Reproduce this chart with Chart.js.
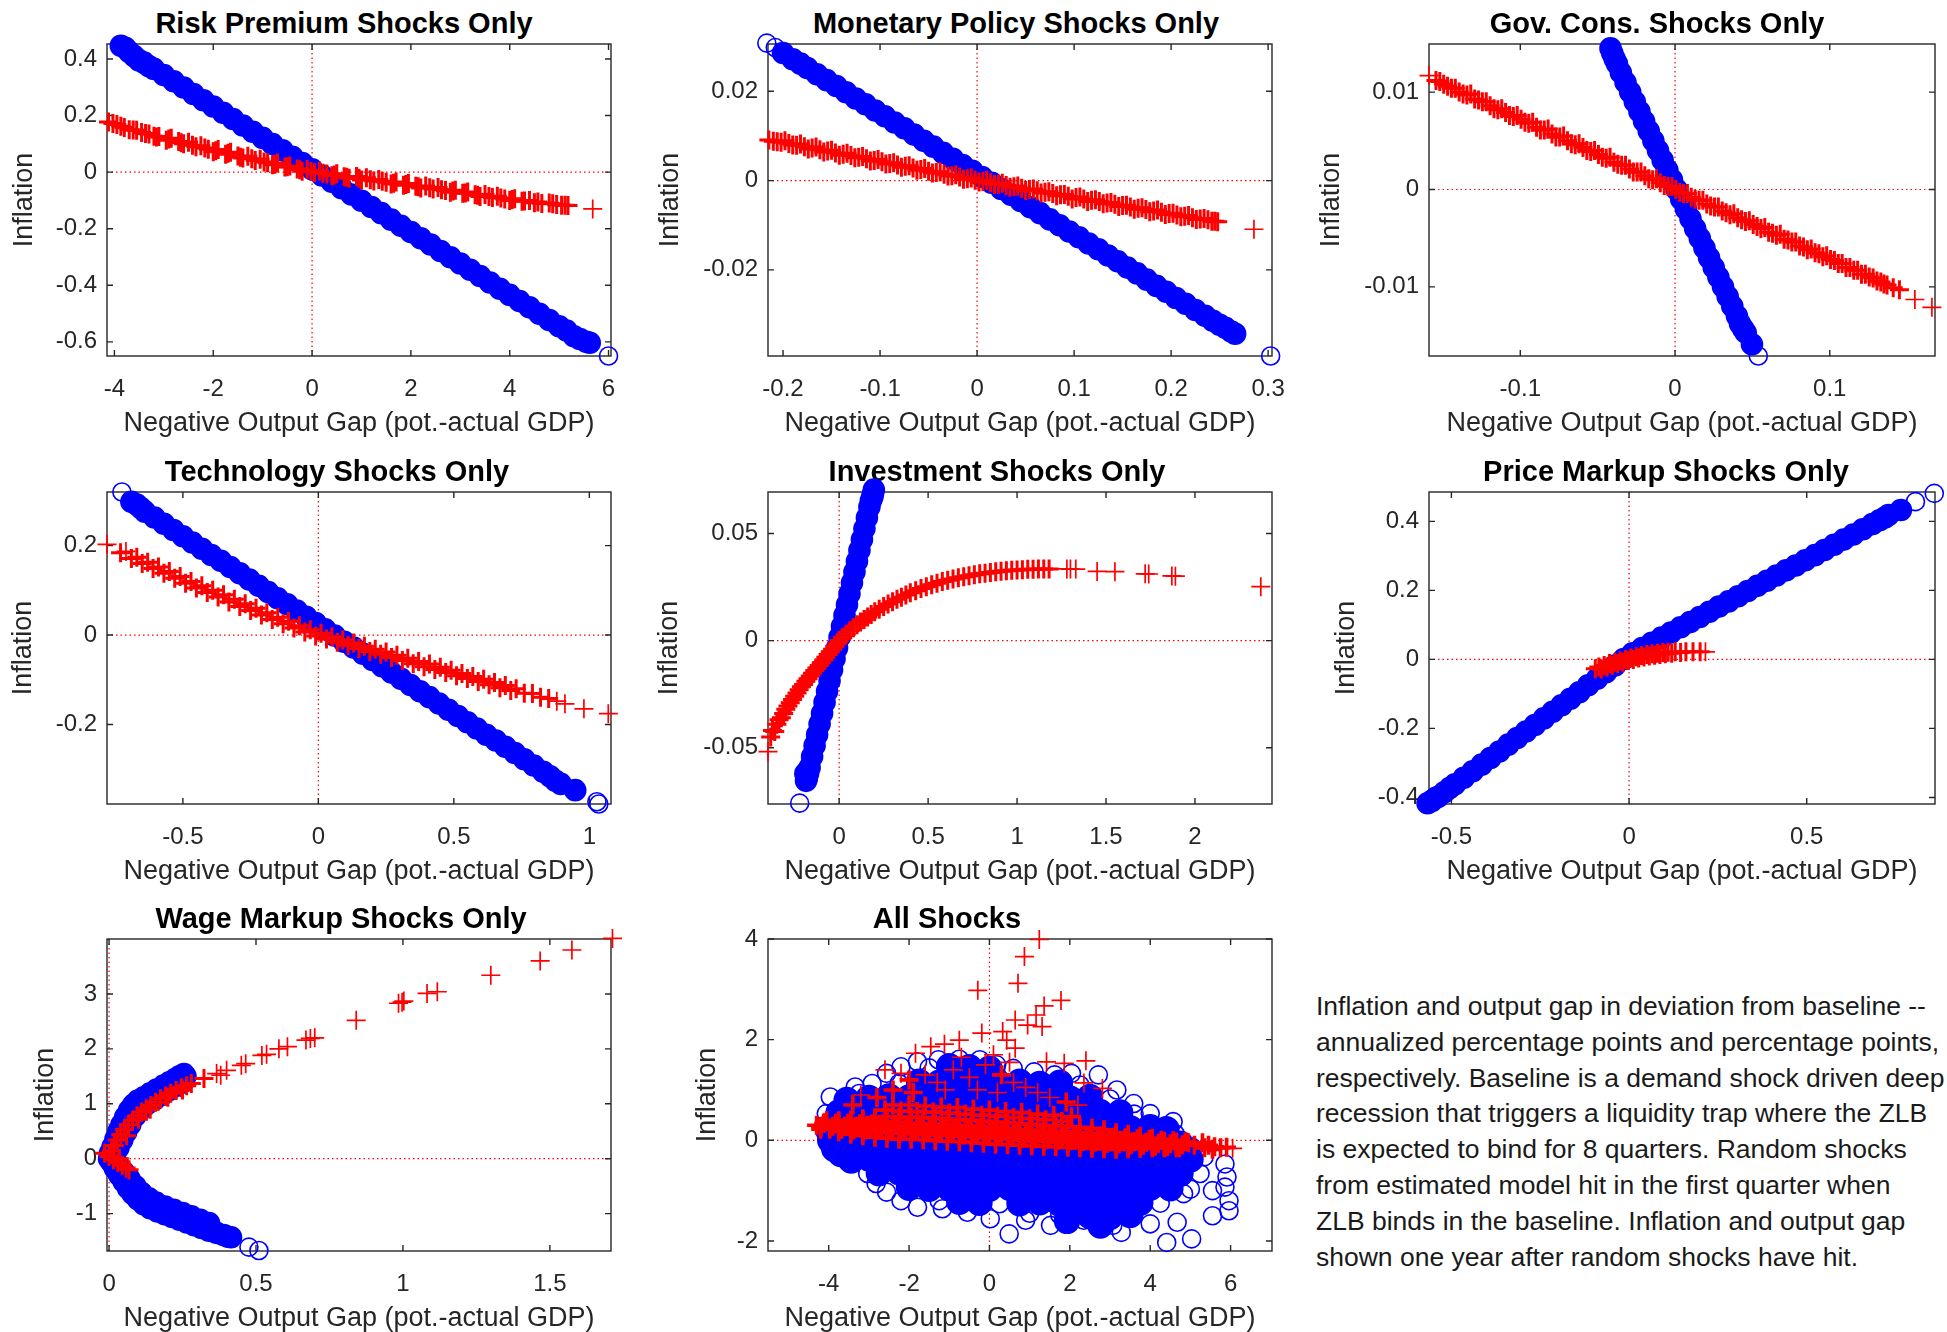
<!DOCTYPE html>
<html>
<head>
<meta charset="utf-8">
<script src="https://cdn.jsdelivr.net/npm/chart.js@4.4.1/dist/chart.umd.min.js"></script>
<style>
  html, body { margin: 0; padding: 0; background: #fff; }
  body { position: relative; width: 1947px; height: 1332px; overflow: hidden; font-family: "Liberation Sans", Arial, sans-serif; }
  canvas { position: absolute; }
  .ptitle { position: absolute; text-align: center; font-weight: bold; font-size: 29px; line-height: 34px; color: #000; white-space: nowrap; }
  #note { position: absolute; left: 1316px; top: 989px; font-size: 26.5px; line-height: 35.8px; color: #1a1a1a; white-space: pre; }
</style>
</head>
<body>
<div id="note">Inflation and output gap in deviation from baseline --
annualized percentage points and percentage points,
respectively. Baseline is a demand shock driven deep
recession that triggers a liquidity trap where the ZLB
is expected to bind for 8 quarters. Random shocks
from estimated model hit in the first quarter when
ZLB binds in the baseline. Inflation and output gap
shown one year after random shocks have hit.</div>
<script>
// ---- data: [negative output gap, inflation] ----
const riskXTicks = [-4, -2, 0, 2, 4, 6];
const riskYTicks = [-0.6, -0.4, -0.2, 0, 0.2, 0.4];
const riskCircles = [[-3.87,0.447],[-3.78,0.44],[-3.7,0.425],[-3.6,0.41],[-3.5,0.395],[-3.4,0.387],[-3.3,0.374],[-3.2,0.365],[-3.0,0.343],[-2.8,0.321],[-2.6,0.299],[-2.4,0.276],[-2.2,0.254],[-2.0,0.232],[-1.8,0.21],[-1.6,0.188],[-1.4,0.165],[-1.2,0.143],[-1.0,0.121],[-0.8,0.099],[-0.6,0.077],[-0.4,0.054],[-0.2,0.032],[0,0.01],[0.2,-0.012],[0.4,-0.034],[0.6,-0.057],[0.8,-0.079],[1.0,-0.101],[1.2,-0.123],[1.4,-0.145],[1.6,-0.168],[1.8,-0.19],[2.0,-0.212],[2.2,-0.234],[2.4,-0.256],[2.6,-0.279],[2.8,-0.301],[3.0,-0.323],[3.2,-0.345],[3.4,-0.367],[3.6,-0.39],[3.8,-0.412],[4.0,-0.434],[4.2,-0.456],[4.4,-0.478],[4.6,-0.501],[4.8,-0.523],[5.0,-0.545],[5.15,-0.56],[5.3,-0.58],[5.42,-0.59],[5.55,-0.6],[5.62,-0.603],[6.0,-0.65]];
const riskPluses = [[-4.12,0.177],[-3.95,0.168],[-3.8,0.158],[-3.7,0.15],[-3.55,0.148],[-3.45,0.14],[-3.3,0.135],[-3.2,0.127],[-3.1,0.126],[-2.95,0.113],[-2.85,0.12],[-2.7,0.108],[-2.6,0.1],[-2.5,0.106],[-2.35,0.09],[-2.25,0.093],[-2.1,0.081],[-2.0,0.072],[-1.9,0.08],[-1.75,0.063],[-1.65,0.07],[-1.5,0.057],[-1.4,0.05],[-1.3,0.056],[-1.15,0.041],[-1.05,0.046],[-0.9,0.033],[-0.8,0.026],[-0.7,0.032],[-0.55,0.018],[-0.45,0.022],[-0.3,0.011],[-0.2,0.003],[-0.1,0.01],[0.05,-0.002],[0.15,0.004],[0.3,-0.007],[0.4,-0.013],[0.5,-0.006],[0.65,-0.016],[0.75,-0.022],[0.9,-0.015],[1.0,-0.028],[1.1,-0.02],[1.25,-0.031],[1.35,-0.026],[1.5,-0.036],[1.6,-0.042],[1.7,-0.035],[1.85,-0.046],[1.95,-0.04],[2.1,-0.05],[2.2,-0.056],[2.3,-0.049],[2.45,-0.06],[2.55,-0.054],[2.7,-0.065],[2.8,-0.071],[2.9,-0.064],[3.05,-0.075],[3.15,-0.07],[3.3,-0.08],[3.4,-0.086],[3.5,-0.079],[3.65,-0.09],[3.75,-0.085],[3.9,-0.095],[4.0,-0.1],[4.1,-0.094],[4.25,-0.103],[4.4,-0.1],[4.5,-0.108],[4.65,-0.111],[4.8,-0.109],[4.95,-0.114],[5.05,-0.117],[5.18,-0.118],[5.68,-0.13],
  [-4.03,0.172],[-3.87,0.162],[-3.62,0.149],[-3.37,0.137],[-3.15,0.124],[-2.9,0.117],[-2.65,0.104],[-2.42,0.095],[-2.17,0.085],[-1.95,0.076],[-1.7,0.067],[-1.45,0.053],[-1.22,0.047],[-0.97,0.036],[-0.75,0.028],[-0.5,0.019],[-0.25,0.008],[-0.02,0.002],[0.22,-0.004],[0.45,-0.01],[0.7,-0.018],[0.95,-0.022],[1.18,-0.027],[1.42,-0.032],[1.65,-0.039],[1.9,-0.044],[2.15,-0.052],[2.38,-0.055],[2.62,-0.062],[2.85,-0.067],[3.1,-0.074],[3.35,-0.082],[3.58,-0.086],[3.82,-0.091],[4.05,-0.097],[4.3,-0.102],[4.57,-0.106],[4.87,-0.112],[5.12,-0.117]];

const monXTicks = [-0.2, -0.1, 0, 0.1, 0.2, 0.3];
const monYTicks = [-0.02, 0, 0.02];
const monCircles = [[-0.2167,0.0308],[-0.208,0.0298],[-0.2,0.0286],[-0.19,0.0272],[-0.182,0.0262],[-0.175,0.0252],[-0.165,0.0238],[-0.155,0.0225],[-0.145,0.0212],[-0.135,0.0198],[-0.125,0.0184],[-0.115,0.0171],[-0.105,0.0157],[-0.095,0.0144],[-0.085,0.013],[-0.075,0.0117],[-0.065,0.0103],[-0.055,0.0089],[-0.045,0.0076],[-0.035,0.0062],[-0.025,0.0049],[-0.015,0.0035],[-0.005,0.0022],[0.005,0.0008],[0.015,-0.0005],[0.025,-0.0019],[0.035,-0.0032],[0.045,-0.0046],[0.055,-0.006],[0.065,-0.0073],[0.075,-0.0087],[0.085,-0.01],[0.095,-0.0114],[0.105,-0.0127],[0.115,-0.0141],[0.125,-0.0154],[0.135,-0.0168],[0.145,-0.0181],[0.155,-0.0195],[0.165,-0.0208],[0.175,-0.0222],[0.185,-0.0236],[0.195,-0.0249],[0.205,-0.0263],[0.215,-0.0276],[0.225,-0.029],[0.235,-0.0303],[0.243,-0.0314],[0.25,-0.0323],[0.256,-0.033],[0.262,-0.0338],[0.266,-0.0343],[0.3026,-0.0393]];
const monPluses = [[-0.2146,0.0091],[-0.206,0.0087],[-0.198,0.0089],[-0.19,0.008],[-0.182,0.0082],[-0.174,0.0071],[-0.166,0.0075],[-0.158,0.0064],[-0.15,0.0068],[-0.142,0.0057],[-0.134,0.0061],[-0.126,0.0051],[-0.118,0.0054],[-0.11,0.0044],[-0.102,0.0047],[-0.094,0.0037],[-0.086,0.004],[-0.078,0.003],[-0.07,0.0033],[-0.062,0.0023],[-0.054,0.0027],[-0.046,0.0017],[-0.038,0.002],[-0.03,0.001],[-0.022,0.0013],[-0.014,0.0003],[-0.006,0.0006],[0.002,-0.0003],[0.01,0.0001],[0.018,-0.0009],[0.026,-0.0006],[0.034,-0.0015],[0.042,-0.0012],[0.05,-0.0022],[0.058,-0.0019],[0.066,-0.0028],[0.074,-0.0025],[0.082,-0.0034],[0.09,-0.0031],[0.098,-0.0041],[0.106,-0.0037],[0.114,-0.0047],[0.122,-0.0043],[0.13,-0.0052],[0.138,-0.0049],[0.146,-0.0058],[0.154,-0.0055],[0.162,-0.0064],[0.17,-0.0061],[0.178,-0.007],[0.186,-0.0066],[0.194,-0.0076],[0.202,-0.0073],[0.21,-0.0081],[0.218,-0.0078],[0.226,-0.0087],[0.234,-0.0085],[0.242,-0.0091],[0.248,-0.0092],[0.2854,-0.0109],
  [-0.21,0.0088],[-0.202,0.0086],[-0.194,0.0083],[-0.186,0.0079],[-0.178,0.0076],[-0.17,0.0073],[-0.162,0.0069],[-0.154,0.0066],[-0.146,0.0062],[-0.138,0.0059],[-0.13,0.0056],[-0.122,0.0052],[-0.114,0.0049],[-0.106,0.0045],[-0.098,0.0042],[-0.09,0.0038],[-0.082,0.0035],[-0.074,0.0032],[-0.066,0.0028],[-0.058,0.0025],[-0.05,0.0021],[-0.042,0.0018],[-0.034,0.0014],[-0.026,0.0011],[-0.018,0.0008],[-0.01,0.0004],[-0.002,0.0001],[0.006,-0.0002],[0.014,-0.0005],[0.022,-0.0008],[0.03,-0.0011],[0.038,-0.0014],[0.046,-0.0017],[0.054,-0.002],[0.062,-0.0023],[0.07,-0.0026],[0.078,-0.0029],[0.086,-0.0032],[0.094,-0.0035],[0.102,-0.0038],[0.11,-0.0041],[0.118,-0.0044],[0.126,-0.0047],[0.134,-0.005],[0.142,-0.0053],[0.15,-0.0056],[0.158,-0.0059],[0.166,-0.0062],[0.174,-0.0065],[0.182,-0.0068],[0.19,-0.0071],[0.198,-0.0074],[0.206,-0.0077],[0.214,-0.008],[0.222,-0.0083],[0.23,-0.0086],[0.238,-0.0088],[0.245,-0.0091]];

const govXTicks = [-0.1, 0, 0.1];
const govYTicks = [-0.01, 0, 0.01];
const govCircles = [[-0.0417,0.0145],[-0.0405,0.014],[-0.039,0.0134],[-0.0375,0.0129],[-0.035,0.012],[-0.032,0.011],[-0.029,0.01],[-0.026,0.009],[-0.023,0.008],[-0.02,0.007],[-0.017,0.006],[-0.014,0.005],[-0.011,0.004],[-0.008,0.003],[-0.005,0.002],[-0.002,0.001],[0.001,0.0],[0.004,-0.001],[0.007,-0.002],[0.01,-0.003],[0.013,-0.004],[0.016,-0.005],[0.019,-0.006],[0.022,-0.007],[0.025,-0.008],[0.028,-0.009],[0.031,-0.01],[0.034,-0.011],[0.037,-0.012],[0.04,-0.013],[0.042,-0.0138],[0.044,-0.0143],[0.0457,-0.0147],[0.0497,-0.0159],[0.0538,-0.0171]];
const govPluses = [[-0.159,0.0117],[-0.152,0.0111],[-0.147,0.0106],[-0.142,0.0104],[-0.137,0.0098],[-0.132,0.0098],[-0.127,0.0092],[-0.122,0.009],[-0.117,0.0083],[-0.112,0.0083],[-0.107,0.0076],[-0.102,0.0076],[-0.097,0.0069],[-0.092,0.0069],[-0.087,0.0061],[-0.082,0.0062],[-0.077,0.0054],[-0.072,0.0055],[-0.067,0.0047],[-0.062,0.0047],[-0.057,0.004],[-0.052,0.004],[-0.047,0.0033],[-0.042,0.0033],[-0.037,0.0026],[-0.032,0.0025],[-0.027,0.0018],[-0.022,0.0018],[-0.017,0.0011],[-0.012,0.0011],[-0.007,0.0004],[-0.002,0.0003],[0.003,-0.0003],[0.008,-0.0004],[0.013,-0.001],[0.018,-0.0011],[0.023,-0.0017],[0.028,-0.0018],[0.033,-0.0024],[0.038,-0.0025],[0.043,-0.0031],[0.048,-0.0032],[0.053,-0.0038],[0.058,-0.0039],[0.063,-0.0045],[0.068,-0.0046],[0.073,-0.0052],[0.078,-0.0054],[0.083,-0.0059],[0.088,-0.0061],[0.093,-0.0066],[0.098,-0.0068],[0.103,-0.0073],[0.108,-0.0076],[0.113,-0.008],[0.118,-0.0083],[0.123,-0.0087],[0.128,-0.0091],[0.133,-0.0095],[0.137,-0.0098],[0.141,-0.0101],[0.145,-0.0103],[0.155,-0.0113],[0.166,-0.0121],
  [-0.1545,0.0112],[-0.1495,0.0108],[-0.1445,0.0104],[-0.1395,0.01],[-0.1345,0.0097],[-0.1295,0.0093],[-0.1245,0.009],[-0.1195,0.0086],[-0.1145,0.0082],[-0.1095,0.0079],[-0.1045,0.0075],[-0.0995,0.0072],[-0.0945,0.0068],[-0.0895,0.0064],[-0.0845,0.0061],[-0.0795,0.0057],[-0.0745,0.0054],[-0.0695,0.005],[-0.0645,0.0046],[-0.0595,0.0043],[-0.0545,0.0039],[-0.0495,0.0036],[-0.0445,0.0032],[-0.0395,0.0028],[-0.0345,0.0025],[-0.0295,0.0021],[-0.0245,0.0018],[-0.0195,0.0014],[-0.0145,0.001],[-0.0095,0.0007],[-0.0045,0.0003],[0.0005,0.0],[0.0055,-0.0004],[0.0105,-0.0008],[0.0155,-0.0011],[0.0205,-0.0015],[0.0255,-0.0018],[0.0305,-0.0022],[0.0355,-0.0026],[0.0405,-0.0029],[0.0455,-0.0033],[0.0505,-0.0036],[0.0555,-0.004],[0.0605,-0.0044],[0.0655,-0.0047],[0.0705,-0.0051],[0.0755,-0.0054],[0.0805,-0.0058],[0.0855,-0.0062],[0.0905,-0.0065],[0.0955,-0.0069],[0.1005,-0.0072],[0.1055,-0.0076],[0.1105,-0.008],[0.1155,-0.0083],[0.1205,-0.0087],[0.1255,-0.009],[0.1305,-0.0094],[0.135,-0.0097]];

const techXTicks = [-0.5, 0, 0.5, 1];
const techYTicks = [-0.2, 0, 0.2];
const techCircles = [[-0.725,0.32],[-0.69,0.298],[-0.67,0.292],[-0.655,0.284],[-0.64,0.276],[-0.605,0.263],[-0.57,0.249],[-0.535,0.235],[-0.5,0.221],[-0.465,0.207],[-0.43,0.193],[-0.395,0.179],[-0.36,0.166],[-0.325,0.152],[-0.29,0.138],[-0.255,0.124],[-0.22,0.11],[-0.185,0.096],[-0.15,0.082],[-0.115,0.069],[-0.08,0.055],[-0.045,0.041],[-0.01,0.027],[0.025,0.013],[0.06,-0.001],[0.095,-0.015],[0.13,-0.028],[0.165,-0.042],[0.2,-0.056],[0.235,-0.07],[0.27,-0.084],[0.305,-0.098],[0.34,-0.112],[0.375,-0.126],[0.41,-0.139],[0.445,-0.153],[0.48,-0.167],[0.515,-0.181],[0.55,-0.195],[0.585,-0.209],[0.62,-0.223],[0.655,-0.236],[0.69,-0.25],[0.725,-0.264],[0.76,-0.278],[0.795,-0.292],[0.83,-0.306],[0.855,-0.316],[0.875,-0.326],[0.895,-0.333],[0.948,-0.347],[1.028,-0.373],[1.035,-0.378]];
const techPluses = [[-0.78,0.203],[-0.73,0.184],[-0.71,0.187],[-0.69,0.171],[-0.67,0.174],[-0.65,0.16],[-0.63,0.163],[-0.61,0.149],[-0.59,0.152],[-0.57,0.138],[-0.55,0.142],[-0.53,0.127],[-0.51,0.131],[-0.49,0.116],[-0.47,0.12],[-0.45,0.105],[-0.43,0.11],[-0.41,0.095],[-0.39,0.1],[-0.37,0.085],[-0.35,0.09],[-0.33,0.074],[-0.31,0.08],[-0.29,0.064],[-0.27,0.07],[-0.25,0.055],[-0.23,0.06],[-0.21,0.045],[-0.19,0.05],[-0.17,0.035],[-0.15,0.04],[-0.13,0.025],[-0.11,0.031],[-0.09,0.016],[-0.07,0.021],[-0.05,0.007],[-0.03,0.012],[-0.01,-0.002],[0.01,0.004],[0.03,-0.009],[0.05,-0.004],[0.07,-0.016],[0.09,-0.011],[0.11,-0.023],[0.13,-0.018],[0.15,-0.03],[0.17,-0.025],[0.19,-0.037],[0.21,-0.032],[0.23,-0.043],[0.25,-0.038],[0.27,-0.05],[0.29,-0.045],[0.31,-0.057],[0.33,-0.052],[0.35,-0.064],[0.37,-0.059],[0.39,-0.071],[0.41,-0.065],[0.43,-0.077],[0.45,-0.072],[0.47,-0.084],[0.49,-0.079],[0.51,-0.091],[0.53,-0.086],[0.55,-0.097],[0.57,-0.093],[0.59,-0.104],[0.61,-0.099],[0.63,-0.111],[0.65,-0.106],[0.67,-0.118],[0.69,-0.113],[0.71,-0.124],[0.73,-0.12],[0.76,-0.13],[0.79,-0.131],[0.82,-0.139],[0.85,-0.142],[0.88,-0.148],[0.91,-0.154],[0.98,-0.165],[1.07,-0.176]];

const invXTicks = [0, 0.5, 1, 1.5, 2];
const invYTicks = [-0.05, 0, 0.05];
const invCircles = [[0.195,0.0705],[0.19,0.0685],[0.186,0.067],[0.178,0.0653],[0.17,0.0624],[0.156,0.0574],[0.142,0.0523],[0.128,0.0472],[0.114,0.0422],[0.1,0.0371],[0.086,0.032],[0.072,0.027],[0.058,0.0219],[0.044,0.0168],[0.03,0.0118],[0.016,0.0067],[0.002,0.0016],[-0.012,-0.0034],[-0.026,-0.0085],[-0.04,-0.0136],[-0.054,-0.0187],[-0.068,-0.0237],[-0.082,-0.0288],[-0.096,-0.0339],[-0.11,-0.0389],[-0.124,-0.044],[-0.138,-0.049],[-0.152,-0.0541],[-0.166,-0.0592],[-0.175,-0.062],[-0.182,-0.0643],[-0.19,-0.062],[-0.186,-0.0655],[-0.222,-0.0759]];
const invPluses = [[-0.40,-0.0518],[-0.385,-0.045],[-0.375,-0.042],[-0.362,-0.0425],[-0.35,-0.039],[-0.338,-0.037],[-0.325,-0.036],[-0.312,-0.034],[-0.3,-0.032],[-0.288,-0.0305],[-0.275,-0.029],[-0.262,-0.0275],[-0.25,-0.026],[-0.237,-0.0245],[-0.225,-0.023],[-0.212,-0.0215],[-0.2,-0.0205],[-0.187,-0.019],[-0.175,-0.0178],[-0.162,-0.0165],[-0.15,-0.0152],[-0.137,-0.014],[-0.125,-0.0128],[-0.112,-0.0116],[-0.1,-0.0103],[-0.087,-0.0091],[-0.075,-0.0078],[-0.062,-0.0065],[-0.05,-0.0052],[-0.037,-0.004],[-0.025,-0.0027],[-0.012,-0.0013],[0.0,0.0],[0.02,0.0015],[0.04,0.003],[0.06,0.0046],[0.08,0.006],[0.1,0.0074],[0.12,0.0087],[0.14,0.0099],[0.16,0.011],[0.18,0.0122],[0.2,0.0135],[0.225,0.0147],[0.25,0.0159],[0.275,0.0171],[0.3,0.0182],[0.325,0.0193],[0.35,0.0203],[0.375,0.0213],[0.4,0.0223],[0.43,0.0233],[0.46,0.0243],[0.49,0.0252],[0.52,0.0261],[0.55,0.0268],[0.58,0.0276],[0.61,0.0282],[0.64,0.0288],[0.67,0.0294],[0.70,0.0298],[0.73,0.0303],[0.76,0.0308],[0.79,0.0312],[0.82,0.0315],[0.85,0.0318],[0.88,0.0321],[0.91,0.0324],[0.94,0.0326],[0.97,0.0328],[1.0,0.033],[1.03,0.0331],[1.06,0.0333],[1.09,0.0333],[1.12,0.0334],[1.15,0.0334],[1.18,0.0334],[1.28,0.0335],[1.3,0.0334],[1.33,0.0334],[1.45,0.0323],[1.55,0.0322],[1.72,0.0312],[1.74,0.0311],[1.87,0.0302],[1.89,0.0301],[2.37,0.0252]];

const priceXTicks = [-0.5, 0, 0.5];
const priceYTicks = [-0.4, -0.2, 0, 0.2, 0.4];
const priceCircles = [[-0.567,-0.417],[-0.555,-0.41],[-0.545,-0.402],[-0.537,-0.398],[-0.52,-0.385],[-0.505,-0.373],[-0.49,-0.362],[-0.465,-0.343],[-0.44,-0.324],[-0.415,-0.305],[-0.39,-0.286],[-0.365,-0.267],[-0.34,-0.247],[-0.315,-0.228],[-0.29,-0.209],[-0.265,-0.19],[-0.24,-0.171],[-0.215,-0.152],[-0.19,-0.133],[-0.165,-0.114],[-0.14,-0.095],[-0.115,-0.075],[-0.09,-0.056],[-0.065,-0.037],[-0.04,-0.018],[-0.015,0.001],[0.01,0.018],[0.037,0.033],[0.064,0.048],[0.091,0.063],[0.118,0.078],[0.145,0.093],[0.172,0.108],[0.199,0.123],[0.226,0.138],[0.253,0.153],[0.28,0.168],[0.307,0.183],[0.334,0.198],[0.361,0.213],[0.388,0.228],[0.415,0.243],[0.442,0.258],[0.469,0.272],[0.496,0.287],[0.523,0.302],[0.55,0.317],[0.577,0.332],[0.604,0.347],[0.631,0.362],[0.658,0.377],[0.685,0.392],[0.705,0.403],[0.72,0.411],[0.73,0.418],[0.765,0.433],[0.806,0.457],[0.859,0.481]];
const pricePluses = [[-0.095,-0.027],[-0.085,-0.022],[-0.078,-0.028],[-0.07,-0.018],[-0.062,-0.022],[-0.055,-0.012],[-0.047,-0.017],[-0.04,-0.008],[-0.032,-0.012],[-0.025,-0.004],[-0.017,-0.008],[-0.01,0.0],[-0.002,-0.003],[0.005,0.004],[0.012,0.0],[0.02,0.008],[0.027,0.004],[0.035,0.011],[0.042,0.007],[0.05,0.014],[0.057,0.01],[0.065,0.016],[0.072,0.012],[0.08,0.018],[0.087,0.014],[0.095,0.02],[0.102,0.016],[0.11,0.021],[0.12,0.018],[0.13,0.022],[0.145,0.02],[0.16,0.022],[0.18,0.022],[0.2,0.022],[0.215,0.022]];

const wageXTicks = [0, 0.5, 1, 1.5];
const wageYTicks = [-1, 0, 1, 2, 3];
const wageCircles = [[0.0,0.0],[0.003,0.1],[0.012,0.22],[0.022,0.36],[0.032,0.5],[0.042,0.62],[0.055,0.76],[0.068,0.88],[0.082,0.98],[0.098,1.06],[0.118,1.12],[0.14,1.19],[0.162,1.26],[0.185,1.33],[0.205,1.39],[0.225,1.45],[0.24,1.5],[0.255,1.54],[0.26,1.5],[0.02,0.08],[0.032,0.2],[0.045,0.34],[0.058,0.48],[0.072,0.62],[0.09,0.78],[0.11,0.9],[0.13,1.0],[0.155,1.08],[0.18,1.16],[0.205,1.25],[0.23,1.33],[0.252,1.4],[0.008,-0.06],[0.02,-0.18],[0.035,-0.3],[0.05,-0.42],[0.065,-0.54],[0.08,-0.64],[0.098,-0.74],[0.118,-0.83],[0.14,-0.9],[0.165,-0.96],[0.19,-1.01],[0.215,-1.06],[0.24,-1.11],[0.265,-1.16],[0.29,-1.21],[0.315,-1.26],[0.34,-1.31],[0.365,-1.35],[0.39,-1.39],[0.405,-1.42],[0.415,-1.43],[0.03,-0.1],[0.05,-0.24],[0.07,-0.37],[0.09,-0.5],[0.11,-0.62],[0.135,-0.72],[0.16,-0.8],[0.19,-0.87],[0.22,-0.93],[0.25,-0.99],[0.28,-1.05],[0.31,-1.11],[0.34,-1.17],[0.476,-1.61],[0.51,-1.67]];
const wagePluses = [[-0.015,0.1],[0.0,0.04],[0.008,0.14],[0.018,0.24],[0.028,0.34],[0.04,0.44],[0.052,0.53],[0.066,0.62],[0.08,0.7],[0.095,0.78],[0.11,0.85],[0.126,0.91],[0.142,0.97],[0.158,1.03],[0.175,1.09],[0.192,1.14],[0.21,1.19],[0.228,1.24],[0.246,1.29],[0.264,1.33],[0.28,1.37],[0.015,-0.02],[0.03,-0.07],[0.045,-0.12],[0.058,-0.17],[0.068,-0.2],[0.035,0.0],[0.06,0.42],[0.1,0.72],[0.14,0.9],[0.2,1.12],[0.25,1.25],[0.323,1.46],[0.366,1.55],[0.38,1.52],[0.4,1.61],[0.45,1.7],[0.465,1.73],[0.52,1.88],[0.536,1.9],[0.578,2.0],[0.607,2.04],[0.67,2.16],[0.685,2.19],[0.7,2.2],[0.841,2.52],[0.985,2.83],[0.997,2.85],[1.003,2.87],[1.082,3.01],[1.117,3.04],[1.299,3.34],[1.467,3.6],[1.575,3.8],[1.713,4.01]];

const allXTicks = [-4, -2, 0, 2, 4, 6];
const allYTicks = [-2, 0, 2, 4];
const allCircles = [
  [-1.5,1.44],[-1.0,1.47],[-0.5,1.45],[0.0,1.42],
  [-2.25,1.13],[-1.75,1.16],[-1.25,1.14],[-0.75,1.17],[-0.25,1.15],[0.25,1.13],[0.75,1.16],[1.25,1.12],[1.75,1.14],[2.25,1.1],
  [-3.0,0.84],[-2.5,0.87],[-2.0,0.85],[-1.5,0.83],[-1.0,0.86],[-0.5,0.85],[0.0,0.87],[0.5,0.84],[1.0,0.86],[1.5,0.85],[2.0,0.83],[2.5,0.86],[3.0,0.82],
  [-3.75,0.55],[-3.25,0.57],[-2.75,0.54],[-2.25,0.56],[-1.75,0.55],[-1.25,0.53],[-0.75,0.56],[-0.25,0.55],[0.25,0.57],[0.75,0.54],[1.25,0.56],[1.75,0.55],[2.25,0.53],[2.75,0.56],[3.25,0.55],[3.6,0.52],
  [-4.0,0.25],[-3.5,0.27],[-3.0,0.24],[-2.5,0.26],[-2.0,0.25],[-1.5,0.23],[-1.0,0.26],[-0.5,0.25],[0.0,0.27],[0.5,0.24],[1.0,0.26],[1.5,0.25],[2.0,0.23],[2.5,0.26],[3.0,0.25],[3.5,0.24],[4.0,0.26],[4.4,0.22],
  [-3.75,-0.05],[-3.25,-0.03],[-2.75,-0.06],[-2.25,-0.04],[-1.75,-0.05],[-1.25,-0.07],[-0.75,-0.04],[-0.25,-0.05],[0.25,-0.03],[0.75,-0.06],[1.25,-0.04],[1.75,-0.05],[2.25,-0.07],[2.75,-0.04],[3.25,-0.05],[3.75,-0.06],[4.25,-0.04],[4.75,-0.07],
  [-3.5,-0.33],[-3.0,-0.36],[-2.5,-0.34],[-2.0,-0.35],[-1.5,-0.37],[-1.0,-0.34],[-0.5,-0.35],[0.0,-0.33],[0.5,-0.36],[1.0,-0.34],[1.5,-0.35],[2.0,-0.37],[2.5,-0.34],[3.0,-0.35],[3.5,-0.33],[4.0,-0.36],[4.5,-0.34],[5.0,-0.38],
  [-2.75,-0.65],[-2.25,-0.63],[-1.75,-0.66],[-1.25,-0.64],[-0.75,-0.65],[-0.25,-0.67],[0.25,-0.64],[0.75,-0.65],[1.25,-0.63],[1.75,-0.66],[2.25,-0.64],[2.75,-0.65],[3.25,-0.67],[3.75,-0.64],[4.25,-0.65],[4.75,-0.66],
  [-2.0,-0.94],[-1.5,-0.96],[-1.0,-0.95],[-0.5,-0.93],[0.0,-0.96],[0.5,-0.94],[1.0,-0.95],[1.5,-0.97],[2.0,-0.94],[2.5,-0.95],[3.0,-0.93],[3.5,-0.96],[4.0,-0.94],[4.5,-0.95],[5.0,-0.97],
  [-1.25,-1.2],[-0.75,-1.22],[-0.25,-1.24],[0.25,-1.26],[0.75,-1.25],[1.25,-1.23],[1.75,-1.26],[2.25,-1.24],[2.75,-1.25],[3.25,-1.27],[3.75,-1.24],[4.25,-1.25],
  [1.0,-1.45],[1.75,-1.48],[2.5,-1.5],[3.0,-1.52],[3.5,-1.48],
  [-3.24,0.93],[-2.92,1.13],[-2.56,1.33],[-2.2,1.46],[-1.79,1.56],[-1.27,1.6],[-0.75,1.61],[-0.24,1.6],[0.18,1.5],[0.59,1.43],[1.11,1.36],[1.62,1.3],[2.04,1.33],[2.71,1.3],[3.17,1.0],[3.59,0.73],[4.0,0.53],[4.57,0.37],[4.62,0.13],
  [5.03,-0.13],[5.34,-0.33],[5.86,-0.47],[5.91,-0.73],[5.86,-0.93],[5.96,-1.2],[5.96,-1.4],[5.55,-1.5],[5.55,-1.0],[5.24,-0.66],[4.83,-1.06],[5.03,-1.96],[4.67,-1.63],[4.41,-2.03],
  [4.0,-1.66],[3.28,-1.83],[3.07,-1.69],[2.76,-1.69],[2.35,-1.59],[1.93,-1.6],[1.52,-1.69],[0.9,-1.59],[0.49,-1.86],[0.02,-1.56],[-0.55,-1.43],[-1.17,-1.36],[-1.79,-1.33],[-2.2,-1.2],[-2.56,-1.03],[-2.82,-0.86],[-3.03,-0.66],[-3.44,-0.4],[-3.7,-0.27],
  [-3.96,0.86],[-4.06,0.53],[-4.01,0.2],[-3.96,0.0],[-3.86,-0.17],[-3.55,0.8],[-3.34,1.06]
];
const allPluses = [
  [-4.2,0.28],[-3.9,0.28],[-3.6,0.28],[-3.3,0.27],[-3.0,0.27],[-2.7,0.26],[-2.4,0.25],[-2.1,0.24],[-1.8,0.23],[-1.5,0.22],[-1.2,0.21],[-0.9,0.2],[-0.6,0.18],[-0.3,0.17],[0.0,0.15],[0.3,0.14],[0.6,0.12],[0.9,0.1],[1.2,0.09],[1.5,0.08],[1.8,0.06],[2.1,0.05],[2.4,0.03],[2.7,0.02],[3.0,0.0],[3.3,-0.01],[3.6,-0.03],[3.9,-0.04],[4.2,-0.06],[4.5,-0.07],[4.8,-0.09],[5.1,-0.1],
  [-3.75,0.36],[-3.45,0.4],[-3.15,0.43],[-2.85,0.45],[-2.55,0.47],[-2.25,0.46],[-1.95,0.46],[-1.65,0.45],[-1.35,0.44],[-1.05,0.42],[-0.75,0.41],[-0.45,0.4],[-0.15,0.38],[0.15,0.36],[0.45,0.35],[0.75,0.33],[1.05,0.32],[1.35,0.3],[1.65,0.29],[1.95,0.27],[2.25,0.26],[2.55,0.24],[2.85,0.21],[3.15,0.15],[3.45,0.12],[3.75,0.08],[4.05,0.04],
  [-3.45,0.12],[-3.15,0.09],[-2.85,0.06],[-2.55,0.04],[-2.25,0.02],[-1.95,0.02],[-1.65,0.01],[-1.35,-0.01],[-1.05,-0.02],[-0.75,-0.03],[-0.45,-0.05],[-0.15,-0.06],[0.15,-0.08],[0.45,-0.09],[0.75,-0.1],[1.05,-0.11],[1.35,-0.12],[1.65,-0.13],[1.95,-0.14],[2.25,-0.15],[2.55,-0.16],[2.85,-0.17],[3.15,-0.18],[3.45,-0.17],[3.75,-0.16],[4.05,-0.15],[4.35,-0.15],[4.65,-0.15],
  [-4.05,0.39],[-3.75,0.39],[-3.45,0.385],[-3.15,0.38],[-2.85,0.375],[-2.55,0.365],[-2.25,0.355],[-1.95,0.345],[-1.65,0.335],[-1.35,0.325],[-1.05,0.315],[-0.75,0.3],[-0.45,0.285],[-0.15,0.27],[0.15,0.255],[0.45,0.24],[0.75,0.22],[1.05,0.205],[1.35,0.195],[1.65,0.18],[1.95,0.165],[2.25,0.15],[2.55,0.135],[2.85,0.12],[3.15,0.08],[3.45,0.06],[3.75,0.03],[4.05,0.0],[4.35,-0.02],[4.65,-0.04],[4.95,-0.05],
  [-3.75,0.17],[-3.45,0.165],[-3.15,0.16],[-2.85,0.155],[-2.55,0.145],[-2.25,0.135],[-1.95,0.125],[-1.65,0.115],[-1.35,0.105],[-1.05,0.095],[-0.75,0.08],[-0.45,0.065],[-0.15,0.05],[0.15,0.035],[0.45,0.02],[0.75,0.0],[1.05,-0.015],[1.35,-0.025],[1.65,-0.04],[1.95,-0.055],[2.25,-0.07],[2.55,-0.085],[2.85,-0.1],[3.15,-0.1],[3.45,-0.1],[3.75,-0.1],[4.05,-0.1],[4.35,-0.11],[4.65,-0.12],
  [-4.125,0.34],[-3.825,0.34],[-3.525,0.34],[-3.225,0.33],[-2.925,0.33],[-2.625,0.32],[-2.325,0.31],[-2.025,0.3],[-1.725,0.29],[-1.425,0.28],[-1.125,0.27],[-0.825,0.26],[-0.525,0.24],[-0.225,0.23],[0.075,0.21],[0.375,0.2],[0.675,0.18],[0.975,0.16],[1.275,0.15],[1.575,0.14],[1.875,0.12],[2.175,0.11],[2.475,0.09],[2.775,0.08],[3.075,0.06],[3.375,0.05],[3.675,0.03],[3.975,0.02],[4.275,0.0],[4.575,-0.01],[4.875,-0.03],
  [-3.975,0.22],[-3.675,0.22],[-3.375,0.21],[-3.075,0.21],[-2.775,0.2],[-2.475,0.19],[-2.175,0.18],[-1.875,0.17],[-1.575,0.16],[-1.275,0.15],[-0.975,0.14],[-0.675,0.12],[-0.375,0.11],[-0.075,0.09],[0.225,0.08],[0.525,0.06],[0.825,0.04],[1.125,0.03],[1.425,0.02],[1.725,0.0],[2.025,-0.01],[2.325,-0.03],[2.625,-0.04],[2.925,-0.06],[3.225,-0.07],[3.525,-0.09],[3.825,-0.1],[4.125,-0.12],[4.425,-0.13],[4.725,-0.15],
  [-2.4,0.7],[-2.0,0.7],[-1.6,0.68],[-1.2,0.66],[-0.8,0.65],[-0.4,0.62],[0.0,0.6],[0.4,0.57],[0.8,0.55],[1.2,0.52],[1.6,0.5],
  [-2.6,0.6],[-2.2,0.58],[-1.8,0.57],[-1.4,0.56],[-1.0,0.54],[-0.6,0.52],[-0.2,0.5],[0.2,0.48],[0.6,0.45],[1.0,0.43],[1.4,0.41],[1.8,0.38],
  [5.3,-0.05],[5.45,-0.1],[5.6,-0.13],[5.75,-0.15],[5.9,-0.14],[6.05,-0.16],[5.35,-0.15],[5.55,-0.18],
  [-4.3,0.3],[-4.1,0.35],[-4.2,0.22],
  [-3.2,0.9],[-2.6,1.4],[-2.2,1.33],[-1.84,1.73],[-1.46,1.86],[-1.12,1.91],[-0.75,1.99],[-0.19,2.13],[0.33,2.16],[0.43,1.99],[0.64,1.83],[-0.29,2.98],[0.87,3.65],[1.24,3.99],[0.71,3.12],[1.78,2.78],[1.36,2.67],[1.16,2.49],[0.64,2.39],[0.95,2.29],[1.31,2.26],[1.42,1.56],[1.86,1.53],[2.4,1.58],[2.35,1.14],[2.81,1.03],[1.91,0.76],[2.04,0.47],[-2.0,1.2],[-1.6,1.3],[-1.3,1.15],[-0.9,1.4],[-0.5,1.25],[-0.1,1.5],[0.1,1.7],[0.3,1.3],[0.6,1.15],[0.9,1.05],[1.2,0.95],[-2.4,1.0],[-1.9,0.95],[-1.1,1.0],[-0.3,1.0],[0.2,0.95],[-2.8,0.85],[-3.4,0.7],[-0.7,1.65],[0.5,1.55],[1.5,0.85],[2.2,0.7]
];

// ---- layout ----
const COL_LEFT = [107, 768, 1429];
const COL_W = [504, 504, 506];
const ROW_TOP = [44, 492, 939];
const PLOT_H = 312;
const AXIS_W = 130, AXIS_H = 100, PAD_TOP = 40, PAD_RIGHT = 40;
const XLABEL_GAP = 68;
const XLABEL = 'Negative Output Gap (pot.-actual GDP)';
const YLABEL = 'Inflation';
const INK = '#262626';

Chart.defaults.font.family = '"Liberation Sans", Arial, sans-serif';
Chart.defaults.color = INK;

const panels = [
  { title: 'Risk Premium Shocks Only', circles: riskCircles, pluses: riskPluses, xr: [-4.15, 6.05], yr: [-0.65, 0.453], xt: riskXTicks, yt: riskYTicks, col: 0, row: 0, gap: 82, tdx: -15 },
  { title: 'Monetary Policy Shocks Only', circles: monCircles, pluses: monPluses, xr: [-0.2155, 0.304], yr: [-0.0393, 0.0306], xt: monXTicks, yt: monYTicks, col: 1, row: 0, gap: 97, tdx: -4 },
  { title: 'Gov. Cons. Shocks Only', circles: govCircles, pluses: govPluses, xr: [-0.159, 0.168], yr: [-0.0171, 0.01494], xt: govXTicks, yt: govYTicks, col: 2, row: 0, gap: 97, tdx: -25 },
  { title: 'Technology Shocks Only', circles: techCircles, pluses: techPluses, xr: [-0.78, 1.08], yr: [-0.378, 0.32], xt: techXTicks, yt: techYTicks, col: 0, row: 1, gap: 83, tdx: -22 },
  { title: 'Investment Shocks Only', circles: invCircles, pluses: invPluses, xr: [-0.4, 2.433], yr: [-0.0763, 0.0694], xt: invXTicks, yt: invYTicks, col: 1, row: 1, gap: 98, tdx: -23 },
  { title: 'Price Markup Shocks Only', circles: priceCircles, pluses: pricePluses, xr: [-0.563, 0.861], yr: [-0.419, 0.485], xt: priceXTicks, yt: priceYTicks, col: 2, row: 1, gap: 82, tdx: -16 },
  { title: 'Wage Markup Shocks Only', circles: wageCircles, pluses: wagePluses, xr: [-0.007, 1.708], yr: [-1.68, 4.0], xt: wageXTicks, yt: wageYTicks, col: 0, row: 2, gap: 61, tdx: -18 },
  { title: 'All Shocks', circles: allCircles, pluses: allPluses, xr: [-5.51, 7.03], yr: [-2.2, 4.0], xt: allXTicks, yt: allYTicks, col: 1, row: 2, gap: 60, tdx: -73, reach: 24, minDense: 6, denseRadius: 12.5, crossDense: 3.6 }
];

// points with many close neighbours are drawn as a solid mass, like the dense MATLAB clouds
function denseFlags(points, xr, yr, w, h, reach, minCount) {
  const px = points.map(([x, y]) => [(x - xr[0]) / (xr[1] - xr[0]) * w, (y - yr[0]) / (yr[1] - yr[0]) * h]);
  return px.map((a, i) => {
    let n = 0;
    px.forEach((b, j) => { if (j !== i && Math.hypot(a[0] - b[0], a[1] - b[1]) < reach) n++; });
    return n >= minCount;
  });
}

const fmt = v => String(Math.round(v * 1e6) / 1e6);

const frame = {
  id: 'frame',
  beforeDatasetsDraw(chart) {
    const { ctx, chartArea: a, scales: { x, y } } = chart;
    ctx.save();
    // dotted zero lines
    ctx.strokeStyle = '#ff0000';
    ctx.lineWidth = 1.2;
    ctx.setLineDash([1.5, 3]);
    const x0 = x.getPixelForValue(0), y0 = y.getPixelForValue(0);
    ctx.beginPath();
    ctx.moveTo(x0, a.top); ctx.lineTo(x0, a.bottom);
    ctx.moveTo(a.left, y0); ctx.lineTo(a.right, y0);
    ctx.stroke();
    ctx.setLineDash([]);
    // box and inward ticks
    ctx.strokeStyle = INK;
    ctx.lineWidth = 1.4;
    ctx.strokeRect(a.left, a.top, a.right - a.left, a.bottom - a.top);
    ctx.beginPath();
    x.ticks.forEach(t => {
      const p = x.getPixelForValue(t.value);
      ctx.moveTo(p, a.bottom); ctx.lineTo(p, a.bottom - 6);
      ctx.moveTo(p, a.top); ctx.lineTo(p, a.top + 6);
    });
    y.ticks.forEach(t => {
      const p = y.getPixelForValue(t.value);
      ctx.moveTo(a.left, p); ctx.lineTo(a.left + 6, p);
      ctx.moveTo(a.right, p); ctx.lineTo(a.right - 6, p);
    });
    ctx.stroke();
    ctx.restore();
  }
};

panels.forEach(p => {
  const left = COL_LEFT[p.col], top = ROW_TOP[p.row], w = COL_W[p.col];

  const t = document.createElement('div');
  t.className = 'ptitle';
  t.textContent = p.title;
  t.style.left = (left + p.tdx - 100) + 'px';
  t.style.width = (w + 200) + 'px';
  t.style.top = (top - 38) + 'px';
  document.body.appendChild(t);

  const cv = document.createElement('canvas');
  cv.width = AXIS_W + w + PAD_RIGHT;
  cv.height = PAD_TOP + PLOT_H + AXIS_H;
  cv.style.left = (left - AXIS_W) + 'px';
  cv.style.top = (top - PAD_TOP) + 'px';
  document.body.appendChild(cv);

  const cDense = denseFlags(p.circles, p.xr, p.yr, w, PLOT_H, p.reach || 28, p.minDense || 4);
  const pDense = denseFlags(p.pluses, p.xr, p.yr, w, PLOT_H, 20, 4);
  const bigR = p.denseRadius || 10.5;
  const crossW = p.crossDense || 3;

  new Chart(cv, {
    type: 'scatter',
    data: {
      datasets: [
        {
          label: 'pluses',
          data: p.pluses.map(([x, y]) => ({ x, y })),
          pointStyle: 'cross',
          pointRadius: 9.5,
          pointBorderColor: '#ff0000',
          pointBorderWidth: ctx => pDense[ctx.dataIndex] ? crossW : 1.7,
          clip: false,
          order: 1
        },
        {
          label: 'circles',
          data: p.circles.map(([x, y]) => ({ x, y })),
          pointStyle: 'circle',
          pointRadius: ctx => cDense[ctx.dataIndex] ? bigR : 9,
          pointBorderColor: '#0000ff',
          pointBackgroundColor: ctx => cDense[ctx.dataIndex] ? '#0000ff' : 'rgba(0,0,0,0)',
          pointBorderWidth: 1.6,
          clip: false,
          order: 2
        }
      ]
    },
    options: {
      responsive: false,
      animation: false,
      events: [],
      layout: { padding: { left: 0, right: PAD_RIGHT, top: PAD_TOP, bottom: 0 } },
      plugins: { legend: { display: false }, tooltip: { enabled: false } },
      scales: {
        x: {
          type: 'linear',
          min: p.xr[0], max: p.xr[1],
          afterBuildTicks: s => { s.ticks = p.xt.map(v => ({ value: v })); },
          afterFit: s => { s.height = AXIS_H; },
          grid: { display: false, drawTicks: false },
          border: { display: false },
          ticks: { autoSkip: false, maxRotation: 0, padding: 18.5, color: INK, font: { size: 24 }, callback: v => fmt(v) },
          title: { display: true, text: XLABEL, color: INK, font: { size: 27 }, padding: { top: 0, bottom: AXIS_H - XLABEL_GAP - 16.2 } }
        },
        y: {
          type: 'linear',
          min: p.yr[0], max: p.yr[1],
          afterBuildTicks: s => { s.ticks = p.yt.map(v => ({ value: v })); },
          afterFit: s => { s.width = AXIS_W; },
          grid: { display: false, drawTicks: false },
          border: { display: false },
          ticks: { autoSkip: false, padding: 10, color: INK, font: { size: 24 }, callback: v => fmt(v) },
          title: { display: true, text: YLABEL, color: INK, font: { size: 27 }, padding: { top: AXIS_W - p.gap - 16.2, bottom: 0 } }
        }
      }
    },
    plugins: [frame]
  });
});
</script>
</body>
</html>
